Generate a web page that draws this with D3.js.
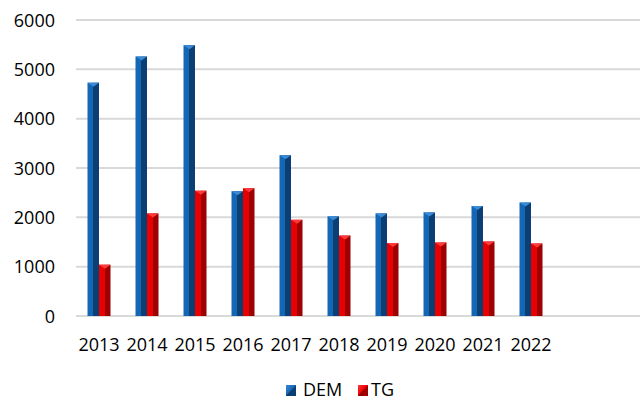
<!DOCTYPE html>
<html><head><meta charset="utf-8">
<script src="https://cdn.jsdelivr.net/npm/d3@7"></script>
<style>html,body{margin:0;padding:0;background:#fff;}svg{display:block;}</style>
</head><body>
<script>
const years = ["2013","2014","2015","2016","2017","2018","2019","2020","2021","2022"];
const seriesNames = ["DEM","TG"];
const demValues = [4730,5260,5490,2530,3260,2020,2080,2100,2230,2300];
const tgValues = [1040,2080,2540,2590,1950,1630,1480,1490,1510,1470];
const yTicks = [0,1000,2000,3000,4000,5000,6000];

const W = 640, H = 401;
const svg = d3.select("body").append("svg").attr("width", W).attr("height", H);
const font = "'Open Sans', sans-serif";

const colors = {
  DEM: {light:"#1467b4", dark:"#0b3f74", cap:"#3a8ad6"},
  TG: {light:"#e80000", dark:"#9c0000", cap:"#ff3a3a"}
};

const y = d3.scaleLinear().domain([0,6000]).range([316,20]);
const x = d3.scaleBand().domain(years).range([75,555]).padding(0);
const x1 = d3.scaleBand().domain(seriesNames).range([12.5,35.5]).padding(0);

// gridlines
svg.append("g").selectAll("line").data(yTicks).join("line")
  .attr("x1",76).attr("x2",640)
  .attr("y1",d=>y(d)).attr("y2",d=>y(d))
  .attr("stroke","#d9d9d9").attr("stroke-width",2);

// y axis labels
const yAxis = d3.axisLeft(y).tickValues(yTicks).tickSize(0).tickPadding(0).tickFormat(d3.format("d"));
const gy = svg.append("g").attr("transform","translate(55,0)").call(yAxis);
gy.select(".domain").remove();
gy.selectAll("text").attr("font-family",font).attr("font-size",18).attr("fill","#000").attr("dy","0.35em");

// x axis labels
const xAxis = d3.axisBottom(x).tickSize(0).tickPadding(0);
const gx = svg.append("g").attr("transform","translate(0,337)").call(xAxis);
gx.select(".domain").remove();
gx.selectAll("text").attr("font-family",font).attr("font-size",18).attr("fill","#000").attr("dy","0.75em");

// gradients
const defs = svg.append("defs");
seriesNames.forEach(s=>{
  const g = defs.append("linearGradient").attr("id","g"+s).attr("x1","0").attr("x2","1").attr("y1","0").attr("y2","0");
  g.append("stop").attr("offset","0%").attr("stop-color",colors[s].light);
  g.append("stop").attr("offset","52%").attr("stop-color",colors[s].light);
  g.append("stop").attr("offset","52%").attr("stop-color",colors[s].dark);
  g.append("stop").attr("offset","100%").attr("stop-color",colors[s].dark);
  const l = defs.append("linearGradient").attr("id","l"+s).attr("x1","0").attr("x2","1").attr("y1","0").attr("y2","1");
  l.append("stop").attr("offset","0%").attr("stop-color",colors[s].cap);
  l.append("stop").attr("offset","50%").attr("stop-color",colors[s].light);
  l.append("stop").attr("offset","50%").attr("stop-color",colors[s].dark);
  l.append("stop").attr("offset","100%").attr("stop-color",colors[s].dark);
});

const data = [];
years.forEach((yr,i)=>{
  data.push({year:yr, s:"DEM", v:demValues[i]});
  data.push({year:yr, s:"TG", v:tgValues[i]});
});

const bars = svg.append("g").selectAll("g").data(data).join("g");
bars.append("rect")
  .attr("x",d=>x(d.year)+x1(d.s))
  .attr("y",d=>y(d.v))
  .attr("width",x1.bandwidth())
  .attr("height",d=>y(0)-y(d.v))
  .attr("fill",d=>`url(#g${d.s})`);
bars.append("path")
  .attr("d",d=>{
    const x0 = x(d.year)+x1(d.s), w = x1.bandwidth(), t = y(d.v);
    return `M${x0},${t}L${x0+w},${t}L${x0+w*0.52},${t+4}Z`;
  })
  .attr("fill",d=>colors[d.s].cap);

// legend
const legendItems = [{s:"DEM", x:286},{s:"TG", x:358}];
const lg = svg.append("g");
const li = lg.selectAll("g").data(legendItems).join("g").attr("transform",d=>`translate(${d.x},385)`);
li.append("rect").attr("width",10).attr("height",11).attr("fill",d=>`url(#l${d.s})`);
li.append("text").attr("x",d=>d.s==="DEM"?17:13).attr("y",11)
  .attr("font-family",font).attr("font-size",18).attr("fill","#000").text(d=>d.s);
</script>
</body></html>
